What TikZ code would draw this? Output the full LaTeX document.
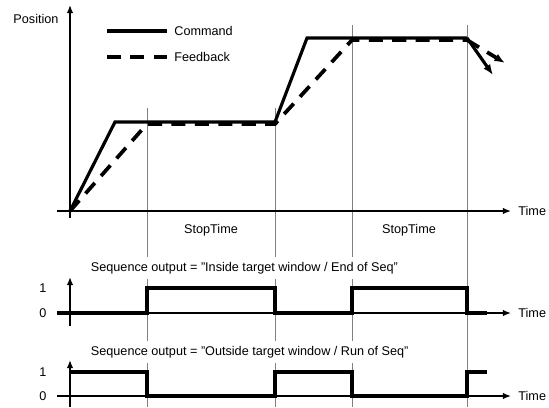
\documentclass[tikz,border=0pt]{standalone}
\usepackage{fontspec}
\setmainfont{Liberation Sans}
\usepackage{tikz}
\usetikzlibrary{arrows.meta}
\pgfdeclarelayer{nodelayer}
\pgfdeclarelayer{edgelayer}
\pgfsetlayers{edgelayer,nodelayer,main}
\tikzset{
    none/.style = {inner sep=0pt},
    axis/.style = {line width=1.1pt, -{Latex[length=7pt,width=5.5pt]}},
    grid/.style = {line width=0.6pt, gray},
    cmd/.style = {line width=2.7pt, line join=miter},
    fb/.style = {line width=3.2pt, dash pattern=on 12pt off 8pt},
    label/.style = {inner sep=1pt, font=\fontsize{10.8}{13}\selectfont},
    title/.style = {label, fill=white, inner sep=4pt, anchor=west}
}
\begin{document}
\begin{tikzpicture}[x=0.03cm, y=-0.03cm]
    % pixel grid of the original figure
    \useasboundingbox (0,0) rectangle (549,407);
    \begin{pgfonlayer}{nodelayer}
        \node [style=none] (0) at (70, 218) {};
        \node [style=none] (1) at (70, 5) {};
        \node [style=none] (2) at (57, 211) {};
        \node [style=none] (3) at (511, 211) {};
        \node [style=none] (4) at (70, 211) {};
        \node [style=none] (5) at (115, 122) {};
        \node [style=none] (6) at (275, 122) {};
        \node [style=none] (7) at (307, 38) {};
        \node [style=none] (8) at (467, 38) {};
        \node [style=none] (9) at (493, 75) {};
        \node [style=none] (10) at (147, 124) {};
        \node [style=none] (11) at (275, 124) {};
        \node [style=none] (12) at (352, 40) {};
        \node [style=none] (13) at (467, 40) {};
        \node [style=none] (14) at (505, 63) {};
        \node [style=none] (15) at (107, 31) {};
        \node [style=none] (16) at (167, 31) {};
        \node [style=none] (17) at (107, 57) {};
        \node [style=none] (18) at (167, 57) {};
        \node [style=none] (19) at (147, 108) {};
        \node [style=none] (20) at (147, 407) {};
        \node [style=none] (21) at (275, 108) {};
        \node [style=none] (22) at (275, 407) {};
        \node [style=none] (23) at (352, 25) {};
        \node [style=none] (24) at (352, 407) {};
        \node [style=none] (25) at (467, 25) {};
        \node [style=none] (26) at (467, 407) {};
        \node [style=none] (27) at (70, 326) {};
        \node [style=none] (28) at (70, 277) {};
        \node [style=none] (29) at (57, 313) {};
        \node [style=none] (30) at (511, 313) {};
        \node [style=none] (31) at (70, 407) {};
        \node [style=none] (32) at (70, 360) {};
        \node [style=none] (33) at (57, 396) {};
        \node [style=none] (34) at (511, 396) {};
        \node [style=none] (35) at (147, 313) {};
        \node [style=none] (36) at (147, 288) {};
        \node [style=none] (37) at (275, 288) {};
        \node [style=none] (38) at (275, 313) {};
        \node [style=none] (39) at (352, 313) {};
        \node [style=none] (40) at (352, 288) {};
        \node [style=none] (41) at (467, 288) {};
        \node [style=none] (42) at (467, 313) {};
        \node [style=none] (43) at (487, 313) {};
        \node [style=none] (44) at (70, 372) {};
        \node [style=none] (45) at (147, 372) {};
        \node [style=none] (46) at (147, 396) {};
        \node [style=none] (47) at (275, 396) {};
        \node [style=none] (48) at (275, 372) {};
        \node [style=none] (49) at (352, 372) {};
        \node [style=none] (50) at (352, 396) {};
        \node [style=none] (51) at (467, 396) {};
        \node [style=none] (52) at (467, 372) {};
        \node [style=none] (53) at (487, 372) {};
        \node [style=label] (54) at (36, 19) {Position};
        \node [style=label, anchor=west] (55) at (173, 31) {Command};
        \node [style=label, anchor=west] (56) at (173, 57) {Feedback};
        \node [style=label, anchor=west] (57) at (517, 211) {Time};
        \node [style=label] (58) at (211, 230) {StopTime};
        \node [style=label] (59) at (409, 230) {StopTime};
        \node [style=title] (60) at (86, 268) {Sequence output = "Inside target window / End of Seq"};
        \node [style=label] (61) at (43, 288) {1};
        \node [style=label] (62) at (43, 313) {0};
        \node [style=label, anchor=west] (63) at (517, 313) {Time};
        \node [style=title] (64) at (86, 352) {Sequence output = "Outside target window / Run of Seq"};
        \node [style=label] (65) at (43, 372) {1};
        \node [style=label] (66) at (43, 396) {0};
        \node [style=label, anchor=west] (67) at (517, 396) {Time};
    \end{pgfonlayer}
    \begin{pgfonlayer}{edgelayer}
        \draw [style=grid] (19.center) to (20.center);
        \draw [style=grid] (21.center) to (22.center);
        \draw [style=grid] (23.center) to (24.center);
        \draw [style=grid] (25.center) to (26.center);
    \end{pgfonlayer}
    \draw [style=axis] (0.center) to (1.center);
    \draw [style=axis] (2.center) to (3.center);
    \draw [style=axis] (27.center) to (28.center);
    \draw [style=axis] (29.center) to (30.center);
    \draw [style=axis] (31.center) to (32.center);
    \draw [style=axis] (33.center) to (34.center);
    \draw [style=cmd] (15.center) to (16.center);
    \draw [style=fb] (17.center) to (18.center);
    \draw [style=cmd] (4.center) -- (5.center) -- (6.center) -- (7.center) -- (8.center);
    \draw [style=cmd, -{Latex[length=9pt,width=7pt]}] (8.center) to (9.center);
    \draw [style=fb] (4.center) -- (10.center) -- (11.center) -- (12.center) -- (13.center);
    \draw [style=fb, -{Latex[length=9pt,width=7pt]}] (13.center) to (14.center);
    \draw [style=cmd] (29.center) -- (35.center) -- (36.center) -- (37.center) -- (38.center) -- (39.center) -- (40.center) -- (41.center) -- (42.center) -- (43.center);
    \draw [style=cmd] (44.center) -- (45.center) -- (46.center) -- (47.center) -- (48.center) -- (49.center) -- (50.center) -- (51.center) -- (52.center) -- (53.center);
\end{tikzpicture}
\end{document}
